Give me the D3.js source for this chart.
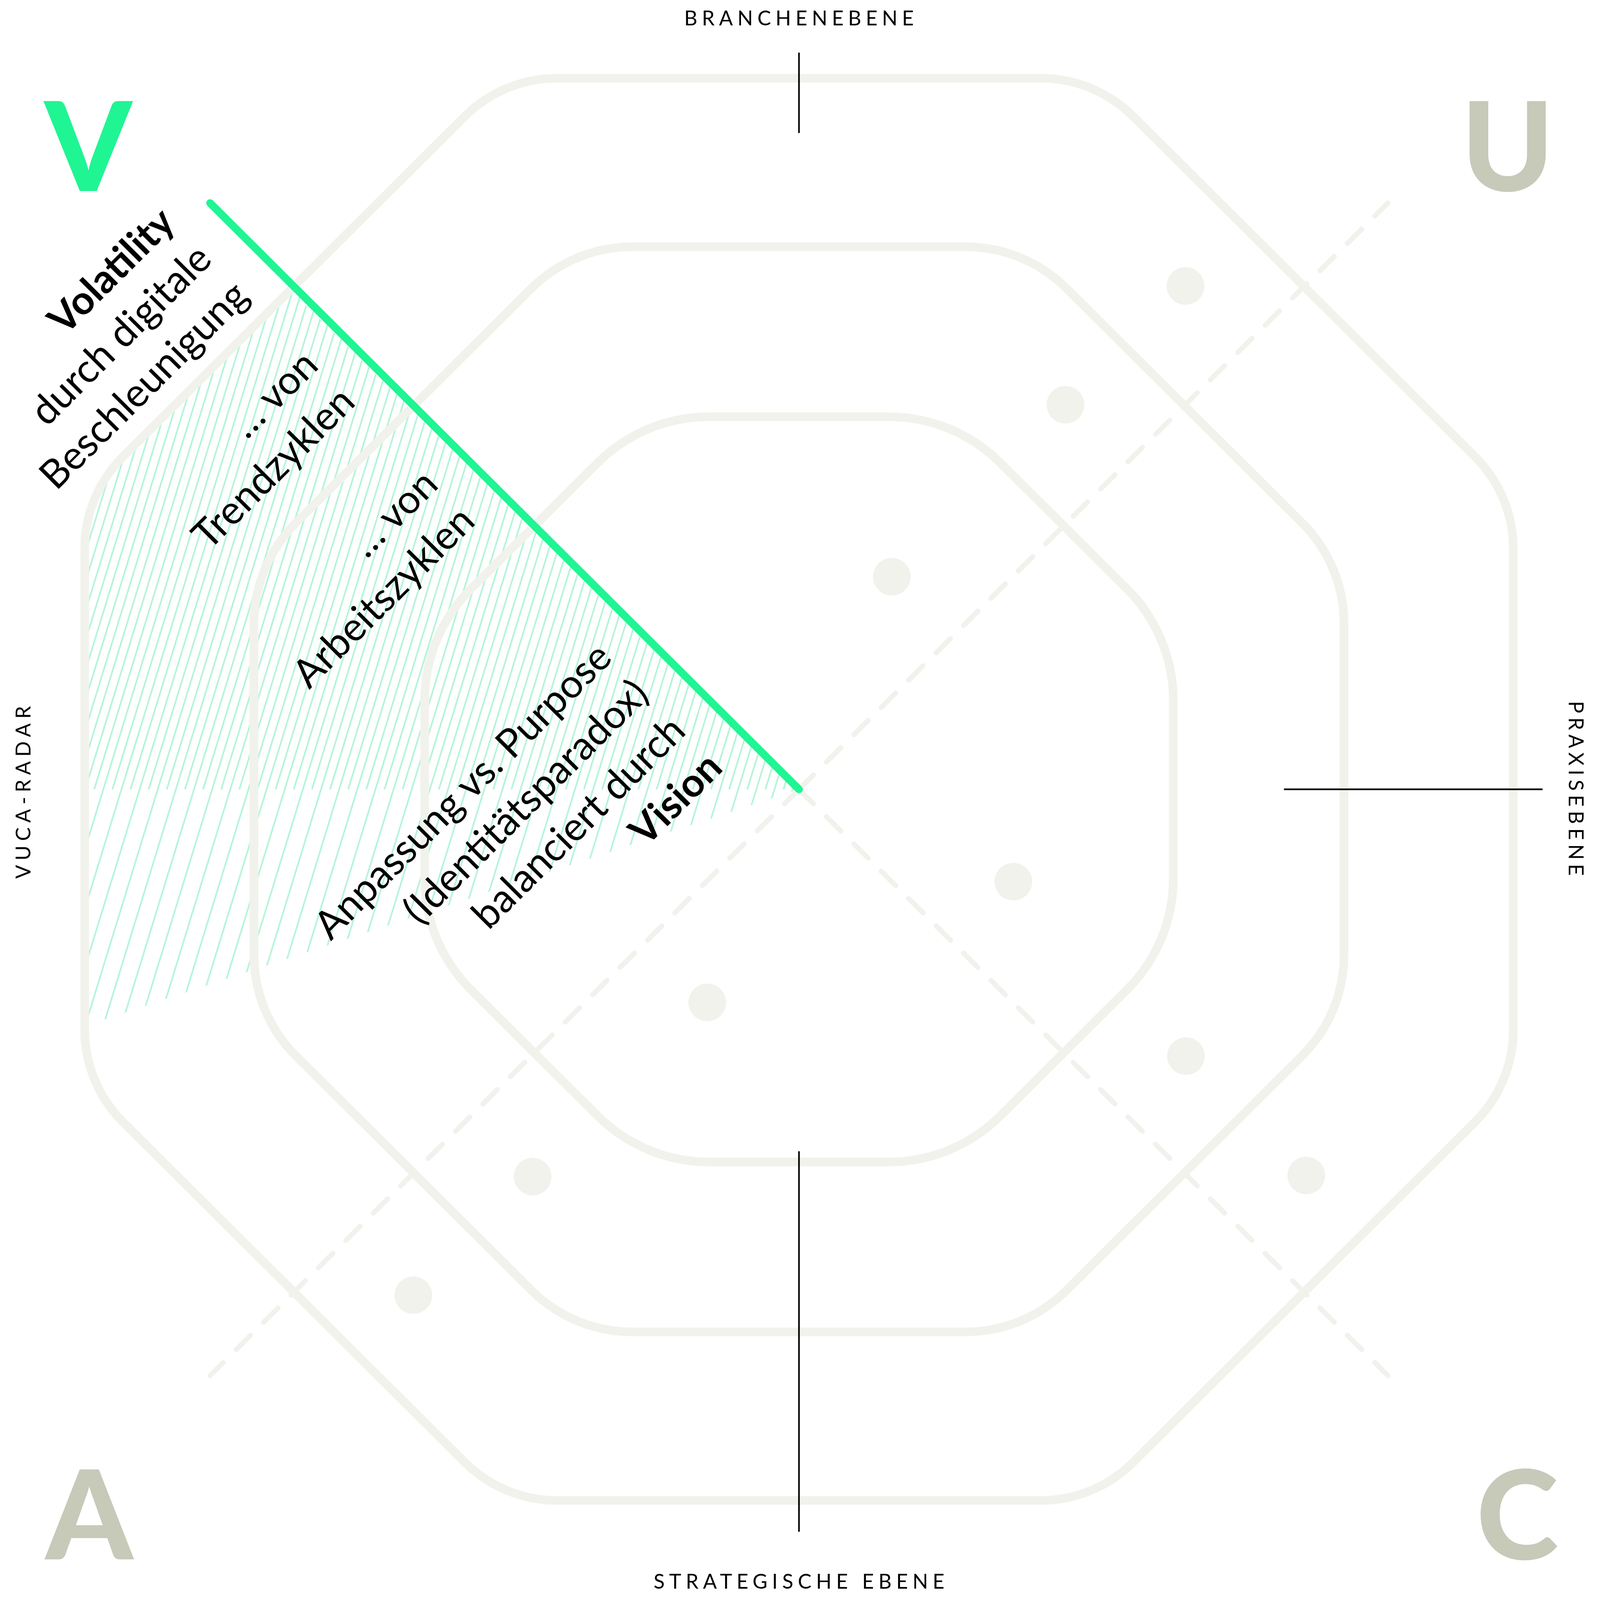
<!DOCTYPE html>
<html>
<head>
<meta charset="utf-8">
<script src="https://cdn.jsdelivr.net/npm/d3@7"></script>
<style>html,body{margin:0;padding:0;background:#fff;overflow:hidden}svg{display:block}</style>
</head>
<body>
<script>
// picture size follows the window; drawing units follow the reference (~1568 grid)
const width = window.innerWidth || 4967, height = window.innerHeight || 4989;
const vbW = 1568, vbH = 1575;
const cx = 783, cy = 777;

// rings, in % of the outer ring
const rings = [52.4, 76.3, 100];

// dots: angle clockwise from top (deg), radius in % of outer ring
const dotAngles = [37.4, 34.6, 23.5, 127.4, 124.7, 113.4, 217.2, 214.4, 203.2];
const dotRadii  = [89.1, 65.7, 32.6, 89.4, 65.9, 32.7, 89.3, 66.0, 32.6];

// diagonal axes (deg) and how far they reach (%)
const diagonals = [45, 135, 225, 315];
const diagonalReach = 116.6;

// black level marks on the main axes: angle, from %, to %
const markAngles = [0, 90, 180];
const markFrom   = [92.3, 67.9, 50.9];
const markTo     = [103.6, 104.1, 104.4];

// hatched V sector spans (deg)
const vSpans = [[251.6, 315], [270, 315]];

// corner letters
const corners = ["V", "U", "C", "A"];
const edgeLabels = ["BRANCHENEBENE", "PRAXISEBENE", "STRATEGISCHE EBENE", "VUCA-RADAR"];

// V sector notes, one block per band
const vNotes = [
  ["Volatility", "durch digitale", "Beschleunigung"],
  ["… von", "Trendzyklen"],
  ["… von", "Arbeitszyklen"],
  ["Anpassung vs. Purpose", "(Identitätsparadox)", "balanciert durch", "Vision"]
];
const boldWords = ["Volatility", "Vision"];

// colours
const green = "#1ff593";
const ringColor = "#f2f2ed";
const letterGray = "#c7c9b9";

const svg = d3.select("body").append("svg")
    .attr("width", width)
    .attr("height", height)
    .attr("viewBox", `0 0 ${vbW} ${vbH}`)
    .attr("preserveAspectRatio", "none");

const rScale = d3.scaleLinear().domain([0, 100]).range([0, 700]);
const aScale = d3.scaleLinear().domain([0, 360]).range([0, 2 * Math.PI]);
const polar = (deg, pct) => {
    const a = aScale(deg), r = rScale(pct);
    return [cx + r * Math.sin(a), cy - r * Math.cos(a)];
};

// rounded octagon with flat top
function octagon(apothem, corner) {
    const R = apothem / Math.cos(Math.PI / 8);
    const pts = d3.range(8).map(i => {
        const a = Math.PI / 8 + i * Math.PI / 4;
        return [cx + R * Math.cos(a), cy + R * Math.sin(a)];
    });
    const p = d3.path();
    p.moveTo(cx + apothem, cy);
    for (let i = 0; i < 8; i++) {
        const v = pts[i], n = pts[(i + 1) % 8];
        p.arcTo(v[0], v[1], n[0], n[1], corner);
    }
    p.closePath();
    return p.toString();
}
const cornerRadius = [155, 140, 128];

const defs = svg.append("defs");
defs.append("clipPath").attr("id", "outer")
  .append("path").attr("d", octagon(rScale(100), 128));

[0, 8.5].forEach((off, i) => {
    const pat = defs.append("pattern")
        .attr("id", "hatch" + i)
        .attr("patternUnits", "userSpaceOnUse")
        .attr("width", 17).attr("height", 17)
        .attr("patternTransform", "rotate(17)");
    pat.append("line")
        .attr("x1", off + 1).attr("x2", off + 1)
        .attr("y1", -2).attr("y2", 19)
        .attr("stroke", "#b3f4d8")
        .attr("stroke-width", 1.6);
});

// hatched V sector
svg.append("g").attr("clip-path", "url(#outer)")
  .selectAll("path")
  .data(vSpans)
  .enter().append("path")
    .attr("d", d => {
        const pts = [[cx, cy]].concat(d3.range(d[0], d[1] + 0.1, 1).map(a => polar(a, 130)));
        return d3.line()(pts) + "Z";
    })
    .attr("fill", (d, i) => `url(#hatch${i})`);

// dashed diagonals
svg.selectAll(".diag")
  .data(diagonals)
  .enter().append("line")
    .attr("class", "diag")
    .attr("x1", cx).attr("y1", cy)
    .attr("x2", d => polar(d, diagonalReach)[0])
    .attr("y2", d => polar(d, diagonalReach)[1])
    .attr("stroke", ringColor)
    .attr("stroke-width", 5)
    .attr("stroke-linecap", "round")
    .attr("stroke-dasharray", "20 18");

// rings
svg.selectAll(".ring")
  .data(rings)
  .enter().append("path")
    .attr("class", "ring")
    .attr("d", (d, i) => octagon(rScale(d), cornerRadius[i]))
    .attr("fill", "none")
    .attr("stroke", ringColor)
    .attr("stroke-width", 8.5);

// dots
svg.selectAll(".dot")
  .data(dotAngles)
  .enter().append("circle")
    .attr("class", "dot")
    .attr("cx", (d, i) => polar(d, dotRadii[i])[0])
    .attr("cy", (d, i) => polar(d, dotRadii[i])[1])
    .attr("r", 18.5)
    .attr("fill", ringColor);

// black marks
svg.selectAll(".mark")
  .data(markAngles)
  .enter().append("line")
    .attr("class", "mark")
    .attr("x1", (d, i) => polar(d, markFrom[i])[0])
    .attr("y1", (d, i) => polar(d, markFrom[i])[1])
    .attr("x2", (d, i) => polar(d, markTo[i])[0])
    .attr("y2", (d, i) => polar(d, markTo[i])[1])
    .attr("stroke", "#000")
    .attr("stroke-width", 1.6);

// green V line
svg.append("line")
    .attr("x1", cx).attr("y1", cy)
    .attr("x2", polar(315, diagonalReach)[0])
    .attr("y2", polar(315, diagonalReach)[1])
    .attr("stroke", green)
    .attr("stroke-width", 7.5)
    .attr("stroke-linecap", "round");

// corner letters
const cornerPos = [[86.5, 188], [1477.5, 188], [1487, 1535], [87.5, 1535]];
svg.selectAll(".corner")
  .data(corners)
  .enter().append("text")
    .attr("class", "corner")
    .attr("x", (d, i) => cornerPos[i][0])
    .attr("y", (d, i) => cornerPos[i][1])
    .attr("text-anchor", "middle")
    .attr("font-family", "Lato, 'Open Sans', sans-serif")
    .attr("font-weight", 900)
    .attr("font-size", 122)
    .attr("fill", (d, i) => i === 0 ? green : letterGray)
    .text(d => d);

// edge labels
const edgeLayout = [
    {x: cx, y: 17.5, rot: 0, len: 225},
    {x: 1545, y: 776, rot: 90, len: 172},
    {x: cx, y: 1556, rot: 0, len: 285},
    {x: 22, y: 780, rot: -90, len: 170}
];
svg.selectAll(".edge")
  .data(edgeLabels)
  .enter().append("text")
    .attr("class", "edge")
    .attr("transform", (d, i) => `translate(${edgeLayout[i].x},${edgeLayout[i].y}) rotate(${edgeLayout[i].rot})`)
    .attr("text-anchor", "middle")
    .attr("dominant-baseline", "central")
    .attr("font-family", "Lato, 'Open Sans', sans-serif")
    .attr("font-size", 20)
    .attr("textLength", (d, i) => edgeLayout[i].len)
    .attr("lengthAdjust", "spacing")
    .attr("fill", "#000")
    .text(d => d);

// notes in the V sector, right aligned against the green line
const blockCenter = [-788, -615, -449, -157];
const lineGap = 51;
const notes = svg.append("g")
    .attr("transform", `translate(${cx},${cy}) rotate(-45)`);
vNotes.forEach((block, b) => {
    block.forEach((line, j) => {
        notes.append("text")
            .attr("x", -38)
            .attr("y", blockCenter[b] + (j - (block.length - 1) / 2) * lineGap)
            .attr("text-anchor", "end")
            .attr("dominant-baseline", "central")
            .attr("font-family", "Lato, 'Open Sans', sans-serif")
            .attr("font-size", 39)
            .attr("font-weight", boldWords.includes(line) ? 700 : 400)
            .attr("fill", "#000")
            .text(line);
    });
});
</script>
</body>
</html>
